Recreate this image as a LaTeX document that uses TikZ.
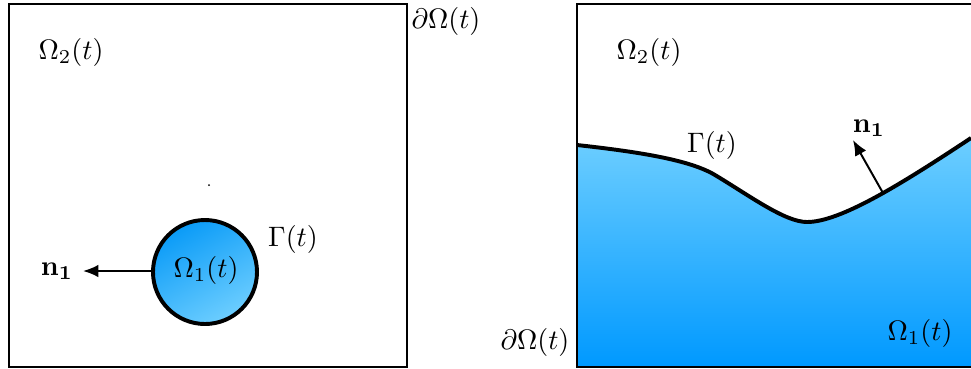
\documentclass[tikz,border=0pt]{standalone}
\usetikzlibrary{arrows.meta}

\definecolor{lightblue}{HTML}{6DCEFF}
\definecolor{deepblue}{HTML}{0099FF}
\definecolor{ballblue}{HTML}{0A9BF7}

\begin{document}
\begin{tikzpicture}[x=0.0125cm, y=-0.0125cm,
        boundary/.style={line width=0.6pt},
        interface/.style={line width=1.4pt},
        normal/.style={-{Latex[length=5.5pt,width=4.5pt]}, line width=0.7pt}]
        \useasboundingbox (0,0) rectangle (971,368);

        % levy obrazek: bublina v oblasti
        \draw[boundary] (9,4) rectangle (407,367);
        \node (dOmegaL) at (446,21) {$\partial\Omega(t)$};
        \node (OmegaTwoL) at (71,52) {$\Omega_2(t)$};
        \fill (209,185) circle (1);

        % bublina
        \shade[top color=ballblue, bottom color=lightblue, shading angle=30]
            (205,272) circle (52);
        \draw[interface] (205,272) circle (52);
        \node (OmegaOneL) at (206,270) {$\Omega_1(t)$};
        \node (GammaL) at (293,239) {$\Gamma(t)$};

        % normala
        \coordinate (PL) at (153,271);
        \node (nL) at (57,271) {$\mathbf{n_1}$};
        \draw[normal] (PL) -- (nL);

        % pravy obrazek: rozhrani
        \shade[top color=lightblue, bottom color=deepblue]
            (578,145) .. controls (640,152) and (690,160) .. (715,175)
            .. controls (750,196) and (785,222) .. (807,222)
            .. controls (840,222) and (900,185) .. (971,138)
            -- (971,366) -- (578,366) -- cycle;
        \draw[boundary] (971,4) -- (577,4) -- (577,367) -- (971,367);
        \draw[interface] (577,145) .. controls (640,152) and (690,160) .. (715,175)
            .. controls (750,196) and (785,222) .. (807,222)
            .. controls (840,222) and (900,185) .. (971,138);

        \node (OmegaTwoR) at (649,52) {$\Omega_2(t)$};
        \node (GammaR) at (712,145) {$\Gamma(t)$};
        \node (OmegaOneR) at (920,333) {$\Omega_1(t)$};
        \node (dOmegaR) at (535,342) {$\partial\Omega(t)$};

        % normala
        \coordinate (PR) at (883,193);
        \coordinate (QR) at (853,140);
        \node (nR) at (869,128) {$\mathbf{n_1}$};
        \draw[normal] (PR) -- (QR);

    \end{tikzpicture}
\end{document}
